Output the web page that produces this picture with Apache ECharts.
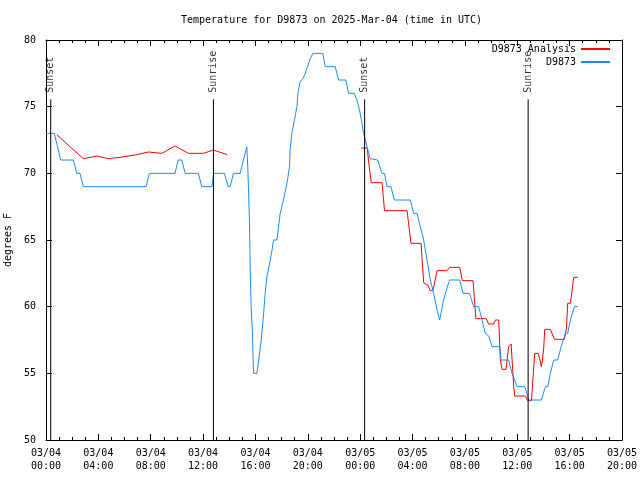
<!DOCTYPE html>
<html><head><meta charset="utf-8">
<script src="https://cdn.jsdelivr.net/npm/echarts@6/dist/echarts.min.js"></script>
<style>html,body{margin:0;padding:0;background:#fff}#c{width:640px;height:480px}</style>
</head><body><div id="c"></div>
<script>
// hours since 2025-03-04 00:00 UTC
const xTickLabels = ['03/04\n00:00','03/04\n04:00','03/04\n08:00','03/04\n12:00','03/04\n16:00','03/04\n20:00',
  '03/05\n00:00','03/05\n04:00','03/05\n08:00','03/05\n12:00','03/05\n16:00','03/05\n20:00'];

const sunTimes = [0.36, 12.79, 24.34, 36.83];
const sunNames = ['Sunset', 'Sunrise', 'Sunset', 'Sunrise'];
const sunLineTop = 75.55;

const obsTimes = [0,0.63,0.88,1.12,2.09,2.35,2.6,2.85,7.65,7.9,9.86,10.09,10.37,10.63,11.64,11.9,12.67,12.81,13.63,13.91,14.07,14.32,14.83,
  15.34,15.42,15.54,15.6,15.67,15.77,15.85,16.11,16.23,16.44,16.61,16.74,16.87,17.13,17.26,17.38,17.64,17.89,18.14,18.45,18.6,18.65,18.78,18.98,
  19.17,19.24,19.42,19.63,19.8,19.98,20.18,20.39,21.15,21.33,22.09,22.35,22.91,23.11,23.55,23.75,23.95,24.14,24.26,24.52,24.77,25.33,25.67,25.86,
  26.05,26.35,26.61,27.83,28.08,28.34,28.59,28.8,28.98,29.15,29.36,29.61,29.87,30.07,30.37,30.63,30.83,31.6,31.86,32.36,32.67,33.05,33.31,33.56,
  33.82,34.08,34.66,34.76,35.34,35.6,35.73,35.99,36.57,36.8,36.87,37.84,38.15,38.33,38.53,38.78,39.09,39.35,39.68,39.85,40.06,40.37,40.62];
const obsTemps = [73,73,72,71,71,70,70,69,69,70,70,71,71,70,70,69,69,70,70,69,69,70,70,
  72,70.3,66.5,62.8,60,58,55,55,55.8,57.5,59.3,61,62.2,63.5,64.2,65,65,67,68,69.5,70.5,71.8,73,74,
  75,76,76.9,77.1,77.5,78,78.6,79,79,78,78,77,77,76,76,75.5,74.75,73.75,73,72,71.1,71,70,70,
  69,69,68,68,67,67,66,65.25,64.25,63.25,62,61,59.75,59,60.5,61.4,62,62,61,61,60,60,59,58,
  57.8,57,57,56,56,55,55,54,54,53.25,53,53,54,54,55,56,56,57,58,58,59,60,60];

const anaTimes1 = [0.82,1.83,2.85,3.88,4.76,5.66,6.93,7.82,8.85,9.86,10.88,12.03,12.79,13.84];
const anaTemps1 = [72.9,72.0,71.1,71.3,71.1,71.2,71.4,71.6,71.5,72.05,71.5,71.5,71.75,71.4];

const anaTimes2 = [24.08,24.54,24.64,24.85,25.67,25.86,27.58,27.88,28.65,28.85,29.18,29.36,29.56,29.87,30.63,30.83,31.6,31.8,32.62,32.84,
  33.62,33.81,34.2,34.33,34.58,34.71,34.84,35.14,35.34,35.53,35.73,35.8,36.62,36.8,37.08,37.21,37.33,37.59,37.71,37.84,37.92,38.02,38.1,
  38.53,38.84,39.6,39.76,39.85,40.06,40.31,40.62];
const anaTemps2 = [71.9,71.9,70.9,69.3,69.3,67.2,67.2,64.75,64.75,61.8,61.6,61.2,61.2,62.7,62.7,62.95,62.95,61.95,61.95,59.1,
  59.1,58.7,58.7,59,59,56,55.3,55.3,57,57.2,54,53.3,53.3,52.95,52.95,54.75,56.5,56.5,56.1,55.5,56,56.9,58.3,
  58.3,57.55,57.55,58.4,60.25,60.25,62.2,62.2];

const FONT = 'DejaVu Sans Mono';
const RED = '#ff0000';
const BLUE = '#1a8cff';
const zip = (a, b) => a.map((v, i) => [v, b[i]]);

const baseX = {
  type: 'value', min: 0, max: 44, interval: 4,
  axisLine: { onZero: false, lineStyle: { color: '#000', width: 1 } },
  axisTick: { inside: true, length: 6, lineStyle: { color: '#000', width: 1 } },
  minorTick: { show: true, splitNumber: 4, length: 3, lineStyle: { color: '#000', width: 1 } },
  splitLine: { show: false }, minorSplitLine: { show: false }
};
const baseY = {
  type: 'value', min: 50, max: 80, interval: 5,
  axisLine: { onZero: false, lineStyle: { color: '#000', width: 1 } },
  axisTick: { inside: true, length: 6, lineStyle: { color: '#000', width: 1 } },
  splitLine: { show: false }
};

const lineSeries = (name, data, color) => ({
  name, type: 'line', data, symbol: 'none', showSymbol: false,
  lineStyle: { color, width: 1 }, itemStyle: { color },
  animation: false, xAxisIndex: 0, yAxisIndex: 0
});

const series = [
  lineSeries('D9873 Analysis', zip(anaTimes1, anaTemps1), RED),
  lineSeries('D9873 Analysis', zip(anaTimes2, anaTemps2), RED),
  lineSeries('D9873', zip(obsTimes, obsTemps), BLUE)
];
sunTimes.forEach(t => {
  series.push({
    type: 'line', data: [[t, sunLineTop], [t, 50]], symbol: 'none', silent: true,
    lineStyle: { color: '#000', width: 1 }, animation: false
  });
});
series.push({
  type: 'scatter', silent: true, animation: false, symbolSize: 1,
  itemStyle: { color: 'rgba(0,0,0,0)' },
  data: sunTimes.map((t, i) => ({ value: [t, sunLineTop], name: sunNames[i] })),
  label: {
    show: true, formatter: '{b}', position: 'top', distance: 6, rotate: 90,
    align: 'left', verticalAlign: 'middle',
    fontFamily: FONT, fontSize: 10, color: '#000'
  }
});

const legendBase = {
  orient: 'vertical', right: 30, align: 'right', itemWidth: 29, itemHeight: 2,
  icon: 'rect', padding: 0, itemGap: 0, selectedMode: false,
  textStyle: { fontFamily: FONT, fontSize: 10, color: '#000' }
};

const chart = echarts.init(document.getElementById('c'), null, { renderer: 'canvas' });
chart.setOption({
  backgroundColor: '#fff',
  animation: false,
  title: {
    text: 'Temperature for D9873 on 2025-Mar-04 (time in UTC)',
    left: 181, top: 15, padding: 0,
    textStyle: { fontFamily: FONT, fontSize: 10, fontWeight: 'normal', color: '#000' }
  },
  legend: [
    Object.assign({}, legendBase, { top: 44, data: ['D9873 Analysis'] }),
    Object.assign({}, legendBase, { top: 57, data: ['D9873'] })
  ],
  grid: { left: 46, right: 18, top: 40, bottom: 40, containLabel: false, outerBoundsMode: 'none' },
  xAxis: [
    Object.assign({}, baseX, {
      position: 'bottom',
      axisLabel: { formatter: v => xTickLabels[Math.round(v / 4)], fontFamily: FONT, fontSize: 10,
        color: '#000', lineHeight: 13, margin: 7, showMaxLabel: true, showMinLabel: true }
    }),
    Object.assign({}, baseX, { position: 'top', axisLabel: { show: false } })
  ],
  yAxis: [
    Object.assign({}, baseY, {
      position: 'left',
      name: 'degrees F', nameLocation: 'middle', nameGap: 30,
      nameTextStyle: { fontFamily: FONT, fontSize: 10, color: '#000' },
      axisLabel: { fontFamily: FONT, fontSize: 10, color: '#000', margin: 10 }
    }),
    Object.assign({}, baseY, { position: 'right', axisLabel: { show: false } })
  ],
  series
});
</script></body></html>
